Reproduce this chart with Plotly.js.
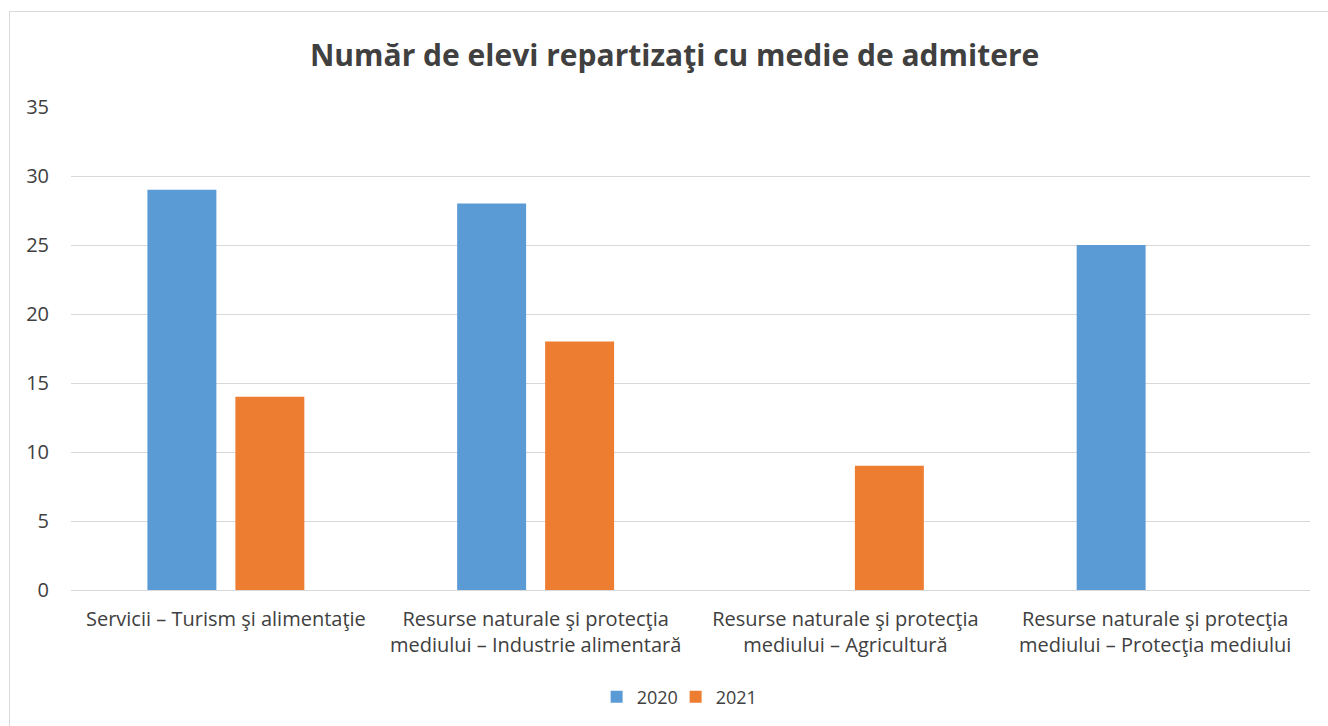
<!DOCTYPE html>
<html>
<head>
<meta charset="utf-8">
<script src="https://cdn.plot.ly/plotly-3.0.1.min.js"></script>
<style>
  html, body { margin: 0; padding: 0; background: #fff; overflow: hidden; }
  #chart { width: 1328px; height: 726px; }
  #frame { position: absolute; left: 9px; top: 11px; width: 1340px; height: 740px; border: 1px solid #d9d9d9; pointer-events: none; }
</style>
</head>
<body>
<div id="chart"></div>
<div id="frame"></div>
<script>
const categories = [
  "Servicii – Turism şi alimentaţie",
  "Resurse naturale şi protecţia<br>mediului – Industrie alimentară",
  "Resurse naturale şi protecţia<br>mediului – Agricultură",
  "Resurse naturale şi protecţia<br>mediului – Protecţia mediului"
];
const values2020 = [29, 28, null, 25];
const values2021 = [14, 18, 9, null];
const yTicks = [0, 5, 10, 15, 20, 25, 30, 35];

const fontFam = "'Open Sans', sans-serif";

const data = [
  { type: "bar", name: "2020", x: categories, y: values2020, marker: { color: "#5B9BD5" }, hoverinfo: "x+y+name" },
  { type: "bar", name: "2021", x: categories, y: values2021, marker: { color: "#ED7D31" }, hoverinfo: "x+y+name" }
];

const layout = {
  width: 1328, height: 726,
  margin: { l: 71, r: 18, t: 107, b: 136, autoexpand: false },
  paper_bgcolor: "#ffffff",
  plot_bgcolor: "#ffffff",
  barmode: "group",
  bargap: 0.432,
  bargroupgap: 0.216,
  title: {
    text: "<b>Număr de elevi repartizaţi cu medie de admitere</b>",
    font: { family: fontFam, size: 30, color: "#404040" },
    x: 0.508, xanchor: "center", xref: "container",
    y: 0.923, yanchor: "middle"
  },
  xaxis: {
    type: "category",
    tickfont: { family: fontFam, size: 20, color: "#404040" },
    tickangle: 0,
    showgrid: false,
    showline: true, linecolor: "#d9d9d9", linewidth: 1,
    ticks: "",
    ticklabelstandoff: 11
  },
  yaxis: {
    range: [0, 35],
    tickvals: yTicks,
    tickfont: { family: fontFam, size: 20, color: "#404040" },
    showgrid: true, gridcolor: "#d9d9d9", gridwidth: 1,
    zeroline: true, zerolinecolor: "#d9d9d9",
    showline: false, ticks: "",
    ticklabelstandoff: 21
  },
  legend: {
    orientation: "h",
    x: 0.488, xanchor: "center",
    y: -0.2215, yanchor: "middle",
    font: { family: fontFam, size: 18, color: "#404040" },
    itemwidth: 30,
    entrywidth: 34,
    entrywidthmode: "pixels"
  },
  showlegend: true
};

Plotly.newPlot("chart", data, layout, { displayModeBar: false, staticPlot: false });
</script>
</body>
</html>
